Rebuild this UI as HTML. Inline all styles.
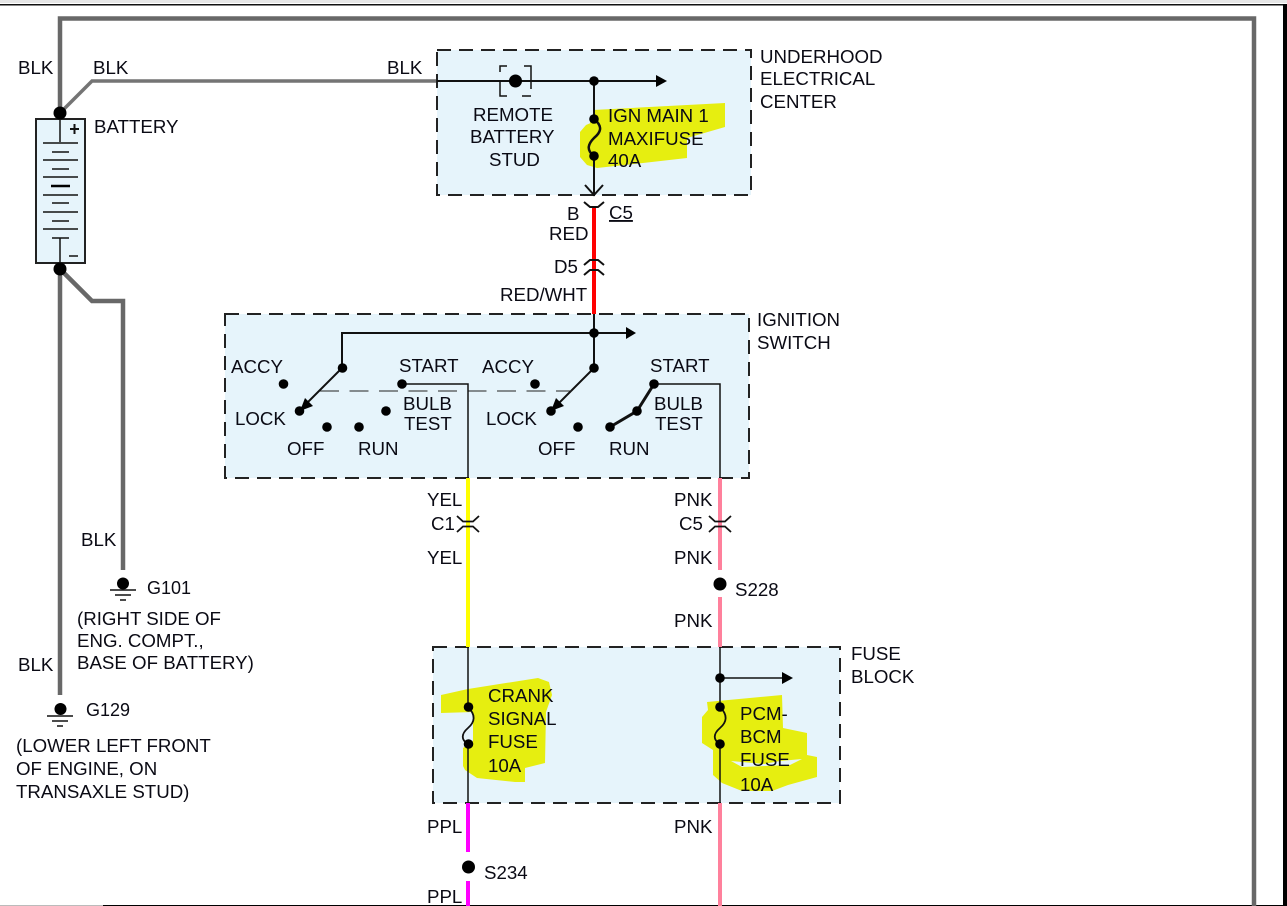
<!DOCTYPE html>
<html><head><meta charset="utf-8"><style>
html,body{margin:0;padding:0;background:#fff;width:1287px;height:906px;overflow:hidden}
svg{display:block}
text{font-family:"Liberation Sans",sans-serif;font-size:18.7px;fill:#0a0a14}
.box{fill:#e6f4fb;stroke:#222;stroke-width:2;stroke-dasharray:14 8}
.w{fill:none;stroke:#111;stroke-width:2}
.g{fill:none;stroke:#686868;stroke-width:4.500}
.t{fill:none;stroke:#111;stroke-width:1.500}
.y{fill:#e6ee10;stroke:none}
</style></head><body>
<svg width="1287" height="906" viewBox="0 0 1287 906" xmlns="http://www.w3.org/2000/svg">
<rect x="0" y="0" width="1287" height="3" fill="#e6e6e6"/>
<rect x="0" y="4" width="1284" height="1.500" fill="#111"/>
<rect x="1283" y="4" width="4" height="902" fill="#000"/>
<rect x="103" y="905" width="1180" height="1" fill="#000"/>
<rect x="0" y="905" width="103" height="1" fill="#bbb"/>

<!-- gray wires -->
<path class="g" d="M60 113V18.500H1254V906"/>
<path class="g" style="stroke-width:3.500;stroke:#747474" d="M60 113L92 81H437"/>
<path class="g" d="M60 269V695"/>
<path class="g" d="M60 269L92 301H123V570"/>

<!-- battery -->
<rect x="36" y="119" width="49" height="144" fill="#e6f4fb" stroke="#222" stroke-width="2"/>
<circle cx="60" cy="113" r="6.500" fill="#000"/>
<circle cx="60" cy="269" r="6.500" fill="#000"/>
<path class="t" d="M60 119V142M43 143H78M52 152H69M43 160H78M52 169H69M43 177H78M43 195H78M52 203H69M43 212H78M52 221H69M43 229H78M52 238H69M60 238V263M69 256H78"/>
<path stroke="#000" stroke-width="2.500" d="M51 186H70"/>
<path stroke="#111" stroke-width="2" d="M70 129H79M74.500 124V134"/>

<!-- boxes -->
<rect class="box" x="437" y="50" width="314" height="145"/>
<rect class="box" x="225" y="314" width="524" height="164"/>
<rect class="box" x="433" y="647" width="407" height="156"/>

<!-- highlights -->
<path class="y" d="M593 110L725 103L725 127L687 138L687 158L643 163L597 168L587 165L580 157L580 132L586 125L593 122Z"/>
<path class="y" d="M441 695L468 689L538 678L549 682L552 695L546 712L545 763L525 768L525 782L515 782L477 778L465 770L463 766L463 748L473 741L473 712L441 713Z"/>
<path class="y" d="M707 702L782 695L783 728L807 733L807 755L817 757L817 777L788 785L772 791L742 791L722 783L713 775L713 750L702 743L702 717L708 710Z"/>
<path fill="#e6f4fb" d="M731 761L742 767L790 765L802 759L780 761L764 764L742 762Z"/>

<!-- red wire -->
<path stroke="#f00" stroke-width="4" d="M594 207V314"/>
<!-- yellow/pink/ppl -->
<path stroke="#ff0" stroke-width="4" d="M468 478V647"/>
<path stroke="#ff809c" stroke-width="4" d="M720 478V570M720 597V647M720 803V906"/>
<path stroke="#ff00ff" stroke-width="4" d="M468 803V852M468 881V906"/>

<!-- underhood -->
<path class="w" d="M437 81H656M594 81V196M585 185L594 195L603 185"/>
<path d="M656 75V87L667 81Z" fill="#000"/>
<path class="w" style="stroke-width:1.500;stroke-dasharray:none" d="M500 72V66H507M524 66H531V89M500 80V96H507M522 96H531"/>
<circle cx="515.500" cy="81" r="6.500" fill="#000"/>
<circle cx="594" cy="81" r="4.800" fill="#000"/>
<path class="y" d="M590 122h8v33h-8z"/>
<path fill="none" stroke="#111" stroke-width="2.500" d="M594 119C604 127 600 133 594 138C588 144 586 150 594 156"/>
<circle cx="594" cy="119" r="4.800" fill="#000"/>
<circle cx="594" cy="156" r="4.800" fill="#000"/>
<!-- connectors -->
<path class="w" d="M584 202L590 207H598L604 202"/>
<path class="w" d="M584 265L590 260H598L604 265M584 275L590 270H598L604 275"/>

<!-- ignition switch -->
<path class="w" d="M594 314V368M342 368V333H626"/>
<path d="M626 327V339L636 333Z" fill="#000"/>
<circle cx="594" cy="333" r="4.800" fill="#000"/>
<path class="w" d="M342 368L303 407M594 368L555 407"/>
<path d="M300 411L305 398L313 406Z" fill="#000"/>
<path d="M551 411L556 398L564 406Z" fill="#000"/>
<path d="M320 391H572" stroke="#222" stroke-width="1" stroke-dasharray="19 10.500" fill="none"/>
<path class="w" style="stroke-width:1.500" d="M402 384H468V478M654 384H720V478"/>
<path fill="none" stroke="#111" stroke-width="3" d="M610 427L637 411L654 384"/>
<g fill="#000">
<circle cx="283.500" cy="384" r="4.800"/><circle cx="342.500" cy="368" r="4.800"/><circle cx="299.500" cy="411" r="4.800"/><circle cx="327" cy="427" r="4.800"/><circle cx="359" cy="427" r="4.800"/><circle cx="386" cy="411" r="4.800"/><circle cx="402" cy="384" r="4.800"/>
<circle cx="535" cy="384" r="4.800"/><circle cx="594" cy="368" r="4.800"/><circle cx="551" cy="411" r="4.800"/><circle cx="578" cy="427" r="4.800"/><circle cx="610" cy="427" r="4.800"/><circle cx="637" cy="411" r="4.800"/><circle cx="654" cy="384" r="4.800"/>
</g>
<path class="w" style="stroke-width:1.800" d="M709 516L715 521.500H725L731 516M709 532L715 526.500H725L731 532"/>
<path class="w" style="stroke-width:1.800" d="M457 516L463 521.500H473L479 516M457 532L463 526.500H473L479 532"/>

<!-- fuse block -->
<path class="w" style="stroke-width:1.500" d="M468 647V707M468 744V803M720 647V707M720 744V803M720 678H782"/>
<path d="M782 672V684L793 678Z" fill="#000"/>
<circle cx="720" cy="678" r="4.800" fill="#000"/>
<path fill="none" stroke="#111" stroke-width="1.800" d="M468 707C476 715 475 722 468 728C461 734 461 740 468 744"/>
<path fill="none" stroke="#111" stroke-width="1.800" d="M720 707C728 715 727 722 720 728C713 734 713 740 720 744"/>
<g fill="#000">
<circle cx="468.500" cy="707" r="4.800"/><circle cx="468.500" cy="744" r="4.800"/><circle cx="720" cy="707" r="4.800"/><circle cx="720" cy="744" r="4.800"/>
<circle cx="720" cy="584" r="6.500"/><circle cx="468.500" cy="867" r="6.500"/>
</g>

<!-- grounds -->
<circle cx="123" cy="583.500" r="6" fill="#000"/>
<circle cx="60.500" cy="709" r="6" fill="#000"/>
<path class="t" d="M110 590H136M115 595H131M120 600H126M47 716H73M52 721H68M57 726H63"/>

<!-- labels -->
<text x="18" y="74">BLK</text>
<text x="93" y="74">BLK</text>
<text x="387" y="74">BLK</text>
<text x="94" y="133">BATTERY</text>
<text x="760" y="63">UNDERHOOD</text>
<text x="760" y="85">ELECTRICAL</text>
<text x="760" y="108">CENTER</text>
<text x="473" y="121">REMOTE</text>
<text x="470" y="143">BATTERY</text>
<text x="489" y="166">STUD</text>
<text x="608" y="122">IGN MAIN 1</text>
<text x="608" y="145">MAXIFUSE</text>
<text x="608" y="167">40A</text>
<text x="567" y="220">B</text>
<text x="609" y="219" text-decoration="underline">C5</text>
<text x="549" y="240">RED</text>
<text x="554" y="273">D5</text>
<text x="500" y="301">RED/WHT</text>
<text x="757" y="326">IGNITION</text>
<text x="757" y="349">SWITCH</text>
<text x="231" y="373">ACCY</text>
<text x="235" y="425">LOCK</text>
<text x="287" y="455">OFF</text>
<text x="358" y="455">RUN</text>
<text x="399" y="372">START</text>
<text x="403" y="410">BULB</text>
<text x="404" y="430">TEST</text>
<text x="482" y="373">ACCY</text>
<text x="486" y="425">LOCK</text>
<text x="538" y="455">OFF</text>
<text x="609" y="455">RUN</text>
<text x="650" y="372">START</text>
<text x="654" y="410">BULB</text>
<text x="655" y="430">TEST</text>
<text x="427" y="506">YEL</text>
<text x="431" y="530">C1</text>
<text x="427" y="564">YEL</text>
<text x="674" y="506">PNK</text>
<text x="679" y="530">C5</text>
<text x="674" y="564">PNK</text>
<text x="735" y="596">S228</text>
<text x="674" y="627">PNK</text>
<text x="851" y="660">FUSE</text>
<text x="851" y="683">BLOCK</text>
<text x="488" y="702">CRANK</text>
<text x="488" y="725">SIGNAL</text>
<text x="488" y="748">FUSE</text>
<text x="488" y="772">10A</text>
<text x="740" y="720">PCM-</text>
<text x="740" y="743">BCM</text>
<text x="740" y="766">FUSE</text>
<text x="740" y="791">10A</text>
<text x="427" y="833">PPL</text>
<text x="674" y="833">PNK</text>
<text x="484" y="879">S234</text>
<text x="427" y="903">PPL</text>
<text x="81" y="546">BLK</text>
<text x="147" y="594" style="font-size:18px">G101</text>
<text x="77" y="625">(RIGHT SIDE OF</text>
<text x="77" y="647">ENG. COMPT.,</text>
<text x="77" y="669">BASE OF BATTERY)</text>
<text x="18" y="671">BLK</text>
<text x="86" y="716" style="font-size:18px">G129</text>
<text x="16" y="752">(LOWER LEFT FRONT</text>
<text x="16" y="775">OF ENGINE, ON</text>
<text x="16" y="798">TRANSAXLE STUD)</text>
</svg>
</body></html>
